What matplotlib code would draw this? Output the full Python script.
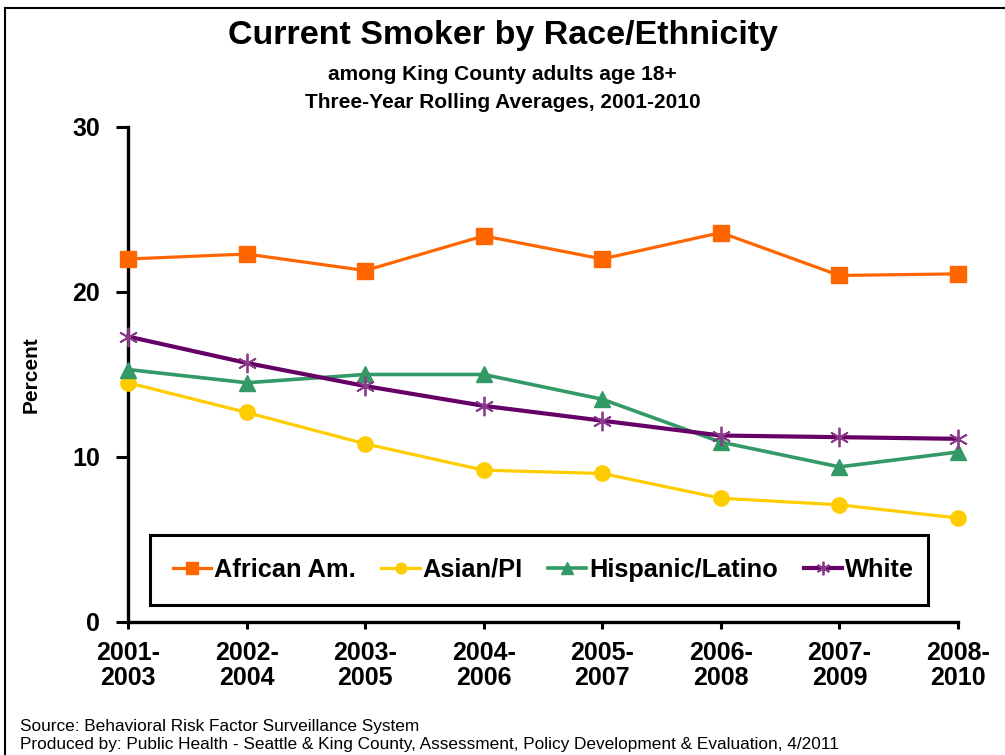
import matplotlib
matplotlib.use("Agg")
import matplotlib.pyplot as plt
from matplotlib import font_manager
from matplotlib.lines import Line2D
from matplotlib.patches import Rectangle

# --- Data ---
periods = ["2001-\n2003", "2002-\n2004", "2003-\n2005", "2004-\n2006",
           "2005-\n2007", "2006-\n2008", "2007-\n2009", "2008-\n2010"]
african_am = [22.0, 22.3, 21.3, 23.4, 22.0, 23.6, 21.0, 21.1]
asian_pi = [14.5, 12.7, 10.8, 9.2, 9.0, 7.5, 7.1, 6.3]
hispanic = [15.3, 14.5, 15.0, 15.0, 13.5, 10.9, 9.4, 10.3]
white = [17.3, 15.7, 14.3, 13.1, 12.2, 11.3, 11.2, 11.1]
y_ticks = [0, 10, 20, 30]

# --- Fonts ---
installed = {f.name for f in font_manager.fontManager.ttflist}
narrow = "Liberation Sans Narrow" if "Liberation Sans Narrow" in installed else "Liberation Sans"
plt.rcParams["font.family"] = ["Liberation Sans", "DejaVu Sans"]

fig = plt.figure(figsize=(10.05, 7.55), dpi=100)
ax = fig.add_axes([0.1274, 0.1762, 0.8258, 0.6556])

x = list(range(len(periods)))
ax.plot(x, african_am, color="#FF6600", lw=2.3, marker="s", ms=12,
        label="African Am.", zorder=3, clip_on=False)
ax.plot(x, asian_pi, color="#FFCC00", lw=2.3, marker="o", ms=11,
        label="Asian/PI", zorder=3, clip_on=False)
ax.plot(x, hispanic, color="#339966", lw=2.6, marker="^", ms=12,
        label="Hispanic/Latino", zorder=3, clip_on=False)
ax.plot(x, white, color="#660066", lw=3.0, marker=(6, 2, 0), ms=14,
        mec="#8A3A8A", mew=1.3, label="White", zorder=3, clip_on=False)

ax.set_xlim(0, len(periods) - 1)
ax.set_ylim(0, 30)
ax.set_yticks(y_ticks)
ax.set_xticks(x)
ax.set_xticklabels(periods, fontsize=18, fontweight="bold", linespacing=1.05)
ax.set_yticklabels([str(v) for v in y_ticks], fontsize=18, fontweight="bold")
ax.tick_params(axis="y", direction="out", length=9, width=2.2, pad=11)
ax.tick_params(axis="x", direction="out", length=5, width=2.2, pad=9)

for side in ["top", "right"]:
    ax.spines[side].set_visible(False)
for side in ["left", "bottom"]:
    ax.spines[side].set_linewidth(2.4)
    ax.spines[side].set_capstyle("projecting")

ax.set_ylabel("Percent", fontsize=15, fontweight="bold", family=narrow)
ax.yaxis.set_label_coords(-0.105, 0.5)

# legend box + entries
ax.add_patch(Rectangle((0.0265, 0.0343), 0.9373, 0.1415, transform=ax.transAxes,
                       fill=True, facecolor="white", edgecolor="black",
                       lw=2.2, zorder=4))
leg = ax.legend(loc="center", bbox_to_anchor=(0.5006, 0.105), ncol=4,
                frameon=False, prop={"weight": "bold", "size": 18.3},
                handlelength=1.5, handletextpad=0.12, columnspacing=1.0,
                markerscale=0.7)
leg.set_zorder(5)

# titles
fig.text(0.5, 0.953, "Current Smoker by Race/Ethnicity", ha="center", va="center",
         fontsize=24.5, fontweight="bold")
fig.text(0.5, 0.9007, "among King County adults age 18+", ha="center", va="center",
         fontsize=15, fontweight="bold", family=narrow)
fig.text(0.5, 0.8636, "Three-Year Rolling Averages, 2001-2010", ha="center",
         va="center", fontsize=15, fontweight="bold", family=narrow)

# source notes
fig.text(0.02, 1 - 726 / 755, "Source: Behavioral Risk Factor Surveillance System",
         ha="left", va="center", fontsize=12.4, family=narrow)
fig.text(0.02, 1 - 745 / 755,
         "Produced by: Public Health - Seattle & King County, Assessment, "
         "Policy Development & Evaluation, 4/2011",
         ha="left", va="center", fontsize=12.4, family=narrow)

# outer frame (left and top edges visible)
fig.add_artist(Line2D([0.005, 0.005], [0.0, 0.989], color="black", lw=1.5))
fig.add_artist(Line2D([0.005, 1.0], [0.989, 0.989], color="black", lw=1.5))

fig.savefig("out.png", dpi=100)
